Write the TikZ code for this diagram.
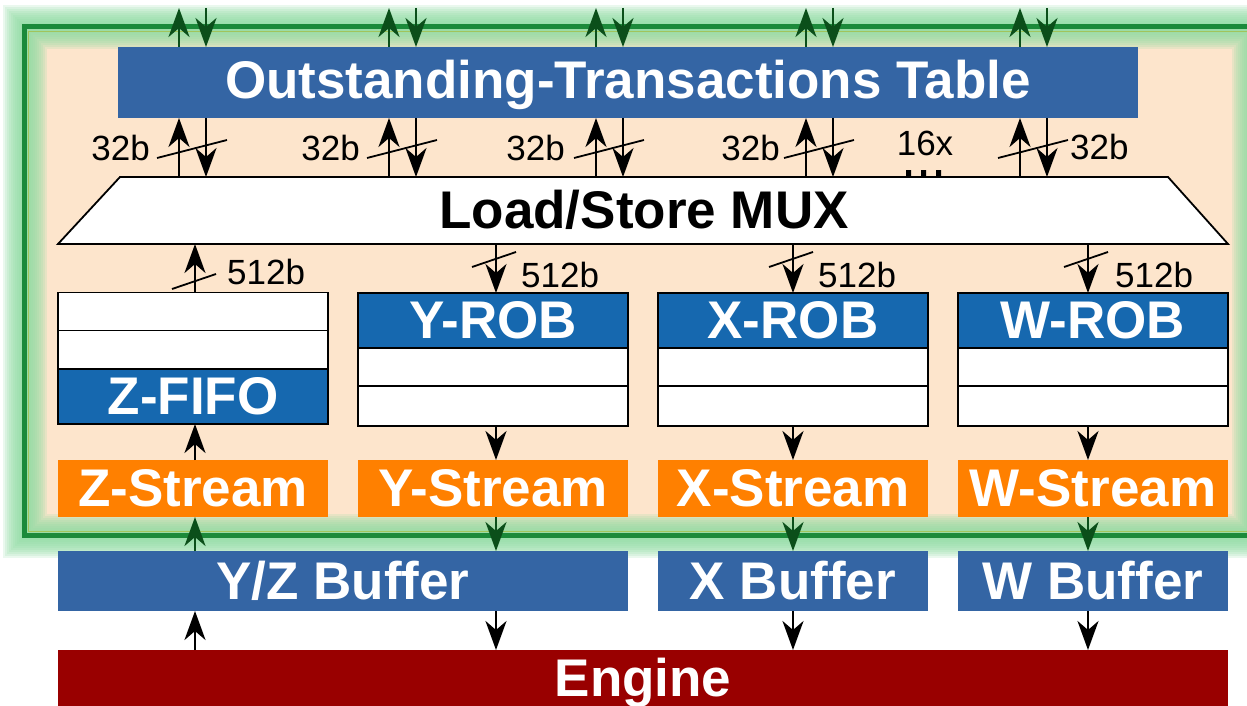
\documentclass[tikz,border=0pt]{standalone}
\usepackage{fontspec}
\setmainfont{Liberation Sans}
\usetikzlibrary{arrows.meta,calc}

\definecolor{peach}{HTML}{FDE5CC}
\definecolor{tblue}{HTML}{3465A4}
\definecolor{rblue}{HTML}{1668AF}
\definecolor{sorange}{HTML}{FF8000}
\definecolor{engred}{HTML}{990000}
\definecolor{frgreen}{HTML}{1B8A3A}
\definecolor{glowgreen}{HTML}{8EDCA2}
\definecolor{arrgreen}{HTML}{0B4F1A}
\definecolor{olivegreen}{HTML}{A4B42A}

\begin{document}
\begin{tikzpicture}[x=1pt,y=-1pt,
  blk/.style={inner sep=0pt, outer sep=0pt, text=white,
    font=\fontsize{53}{60}\selectfont\bfseries,
    text height=38pt, text depth=2pt},
  tablebox/.style={blk, fill=tblue, minimum width=1020pt, minimum height=71pt, text depth=6pt},
  robhead/.style={blk, fill=rblue, draw=black, line width=1.8pt, minimum width=270pt, minimum height=55pt},
  robrow/.style={blk, fill=white, draw=black, line width=1.6pt, minimum width=270pt},
  streambox/.style={blk, fill=sorange, minimum width=270pt, minimum height=57pt},
  bufbox/.style={blk, fill=tblue, minimum height=60pt},
  enginebox/.style={blk, fill=engred, minimum width=1170pt, minimum height=62pt, text depth=8pt},
  lbl/.style={inner sep=0pt, font=\fontsize{35}{40}\selectfont, text height=25pt, text depth=0pt},
  arr/.style={line width=2.7pt, black, -{Stealth[length=29pt,width=21pt,inset=9pt]}},
  garr/.style={arr, arrgreen},
  slashln/.style={line width=1.8pt, black}
]
\useasboundingbox (0,0) rectangle (1247,706);
\fill[white] (0,0) rectangle (1247,706);

% glowing frame of the memory unit
\fill[peach] (24.5,27) rectangle (1254,535.5);
\foreach \w in {44,40,36,32,28,24,20,16,12,8}
  \draw[glowgreen, opacity=0.18, line width=\w pt] (24.5,27) rectangle (1254,535.5);
\draw[olivegreen, opacity=0.6, line width=1.3pt] (28.8,31.3) rectangle (1250,531.2);
\draw[frgreen, line width=5pt] (24.5,27) rectangle (1254,535.5);

% column positions of the vertical connectors
\coordinate (cZ) at (195,0);
\coordinate (cY) at (496,0);
\coordinate (cX) at (793,0);
\coordinate (cW) at (1088,0);

% outstanding-transactions table
\node[tablebox] (ott) at (628,82.5) {Outstanding-Transactions Table};

% load/store multiplexer
\node[inner sep=0pt, outer sep=0pt, minimum width=1048pt, minimum height=67pt] (mux) at (644,210.5) {};
\fill[black] (906,170) rectangle (911,176) (921,170) rectangle (926,176) (936,170) rectangle (941,176);
\draw[fill=white, line width=1.8pt] (mux.north west) -- (mux.north east)
  -- ($(mux.south east)+(60,0)$) -- ($(mux.south west)+(-62,0)$) -- cycle;
\node[blk, text=black] (muxlbl) at (mux.center) {Load/Store MUX};

% Z-FIFO and reorder buffers
\node[robrow, minimum height=39pt] (zA) at (193,312.5) {};
\node[robrow, minimum height=37pt] (zB) at (193,350.5) {};
\node[robhead] (zfifo) at (193,396.5) {Z-FIFO};

\node[robhead] (yrob) at (493,320.5) {Y-ROB};
\node[robrow, minimum height=40pt] (yA) at (493,368) {};
\node[robrow, minimum height=36pt] (yB) at (493,406) {};

\node[robhead] (xrob) at (793,320.5) {X-ROB};
\node[robrow, minimum height=40pt] (xA) at (793,368) {};
\node[robrow, minimum height=36pt] (xB) at (793,406) {};

\node[robhead] (wrob) at (1093,320.5) {W-ROB};
\node[robrow, minimum height=40pt] (wA) at (1093,368) {};
\node[robrow, minimum height=36pt] (wB) at (1093,406) {};

% streams
\node[streambox] (zs) at (193,488.5) {Z-Stream};
\node[streambox] (ys) at (493,488.5) {Y-Stream};
\node[streambox] (xs) at (793,488.5) {X-Stream};
\node[streambox] (ws) at (1093,488.5) {W-Stream};

% buffers and engine
\node[bufbox, minimum width=570pt] (yzbuf) at (343,581) {Y/Z Buffer};
\node[bufbox, minimum width=270pt] (xbuf) at (793,581) {X Buffer};
\node[bufbox, minimum width=270pt] (wbuf) at (1093,581) {W Buffer};
\node[enginebox] (engine) at (643,681) {Engine};

% 32-bit request/response ports of the table
\foreach \i/\u/\d in {1/179/206, 2/389/416, 3/596/623, 4/806/833, 5/1020/1047} {
  \coordinate (u\i) at (\u,8);
  \coordinate (d\i) at (\d,8);
  \draw[garr] (ott.north -| u\i) -- (u\i);
  \draw[garr] (d\i) -- (ott.north -| d\i);
  \draw[arr] (mux.north -| u\i) -- (ott.south -| u\i);
  \draw[arr] (ott.south -| d\i) -- (mux.north -| d\i);
  \draw[slashln] ($(u\i)+(-22,150)$) -- ($(d\i)+(21,132)$);
}
\node[lbl, anchor=east] (w1) at ($(u1)+(-29,140)$) {32b};
\node[lbl, anchor=east] (w2) at ($(u2)+(-29,140)$) {32b};
\node[lbl, anchor=east] (w3) at ($(u3)+(-31,140)$) {32b};
\node[lbl, anchor=east] (w4) at ($(u4)+(-26,140)$) {32b};
\node[lbl, anchor=west] (w5) at ($(d5)+(23,139)$) {32b};
\node[lbl] (n16) at (925,143) {16x};

% 512-bit ports of the multiplexer
\draw[arr] (zA.north -| cZ) -- (mux.south -| cZ);
\draw[slashln] ($(cZ)+(-23,289)$) -- ($(cZ)+(21,274)$);
\node[lbl, anchor=west] (bz) at ($(cZ)+(32,272)$) {512b};
\draw[arr] (mux.south -| cY) -- (yrob.north -| cY);
\draw[slashln] ($(cY)+(-24,267)$) -- ($(cY)+(20,252)$);
\node[lbl, anchor=west] (by) at ($(cY)+(25,275)$) {512b};
\draw[arr] (mux.south -| cX) -- (xrob.north -| cX);
\draw[slashln] ($(cX)+(-24,267)$) -- ($(cX)+(20,252)$);
\node[lbl, anchor=west] (bx) at ($(cX)+(25,275)$) {512b};
\draw[arr] (mux.south -| cW) -- (wrob.north -| cW);
\draw[slashln] ($(cW)+(-24,267)$) -- ($(cW)+(20,252)$);
\node[lbl, anchor=west] (bw) at ($(cW)+(27,275)$) {512b};

% stream <-> buffer queues
\draw[arr] (zs.north -| cZ) -- (zfifo.south -| cZ);
\draw[arr] (yB.south -| cY) -- (ys.north -| cY);
\draw[arr] (xB.south -| cX) -- (xs.north -| cX);
\draw[arr] (wB.south -| cW) -- (ws.north -| cW);

% buffers <-> streams
\draw[garr] (yzbuf.north -| cZ) -- (zs.south -| cZ);
\draw[garr] (ys.south -| cY) -- (yzbuf.north -| cY);
\draw[garr] (xs.south -| cX) -- (xbuf.north -| cX);
\draw[garr] (ws.south -| cW) -- (wbuf.north -| cW);

% engine <-> buffers
\draw[arr] (engine.north -| cZ) -- (yzbuf.south -| cZ);
\draw[arr] (yzbuf.south -| cY) -- (engine.north -| cY);
\draw[arr] (xbuf.south -| cX) -- (engine.north -| cX);
\draw[arr] (wbuf.south -| cW) -- (engine.north -| cW);
\end{tikzpicture}
\end{document}
